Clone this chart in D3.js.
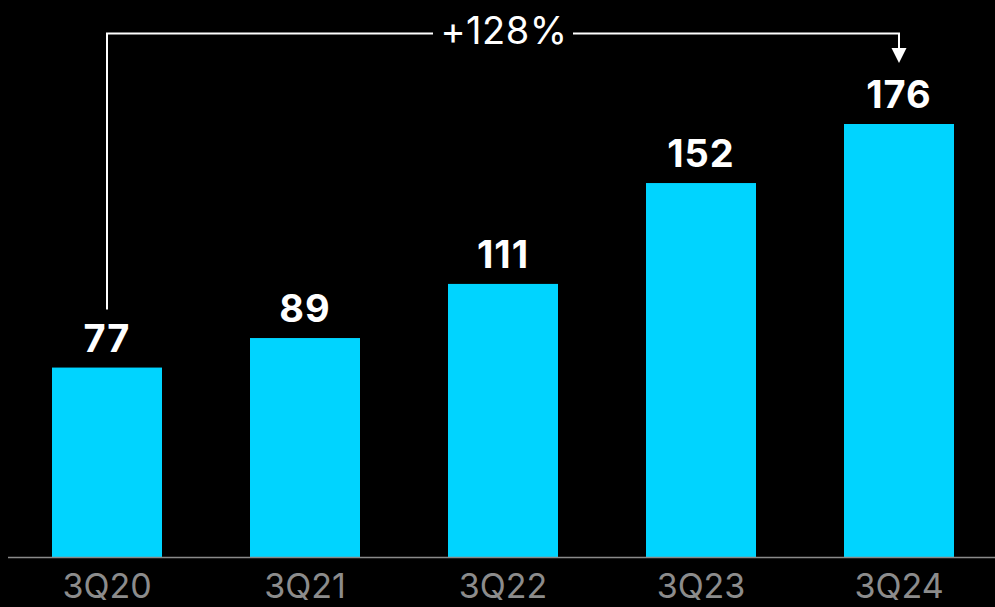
<!DOCTYPE html>
<html>
<head>
<meta charset="utf-8">
<script src="https://cdn.jsdelivr.net/npm/d3@7"></script>
<style>
  html, body { margin: 0; padding: 0; background: #000; }
  svg { display: block; }
</style>
</head>
<body>
<svg id="chart" width="995" height="607"></svg>
<script>
const categories = ["3Q20", "3Q21", "3Q22", "3Q23", "3Q24"];
const values = [77, 89, 111, 152, 176];
const growthLabel = "+128%";

const W = 995, H = 607;
const svg = d3.select("#chart");
svg.append("rect").attr("width", W).attr("height", H).attr("fill", "#000");

const x = d3.scaleBand()
  .domain(categories)
  .range([8, 998])
  .paddingInner(88 / 198)
  .paddingOuter(44 / 198);

const y = d3.scaleLinear()
  .domain([0, 176])
  .range([557, 124]);

// bars
svg.append("g").selectAll("rect")
  .data(values)
  .join("rect")
  .attr("x", (d, i) => x(categories[i]))
  .attr("y", d => y(d))
  .attr("width", x.bandwidth())
  .attr("height", d => y(0) - y(d))
  .attr("fill", "#00D4FF");

// baseline
svg.append("line")
  .attr("x1", 8).attr("x2", W)
  .attr("y1", y(0) + 0.5).attr("y2", y(0) + 0.5)
  .attr("stroke", "#8a8a8a")
  .attr("stroke-width", 1.5);

// category labels
const xAxis = d3.axisBottom(x).tickSize(0).tickPadding(0);
const gx = svg.append("g").attr("transform", `translate(0,${y(0)})`).call(xAxis);
gx.select(".domain").remove();
gx.selectAll("text")
  .attr("dy", null)
  .attr("y", 41)
  .attr("fill", "#8c8c8c")
  .attr("font-family", "Inter, 'Noto Sans', sans-serif")
  .attr("font-size", 34)
  .attr("font-weight", 400);

// value labels
svg.append("g").selectAll("text")
  .data(values)
  .join("text")
  .attr("x", (d, i) => x(categories[i]) + x.bandwidth() / 2)
  .attr("y", d => y(d) - 16)
  .attr("text-anchor", "middle")
  .attr("fill", "#fff")
  .attr("font-family", "Inter, 'Noto Sans', sans-serif")
  .attr("font-size", 38)
  .attr("font-weight", 700)
  .attr("letter-spacing", 1)
  .text(d => d);

// growth bracket from first to last bar
const cx0 = x(categories[0]) + x.bandwidth() / 2;
const cx1 = x(categories[categories.length - 1]) + x.bandwidth() / 2;
const lineY = 33.5;
const startY = y(values[0]) - 58;
const tipY = y(values[values.length - 1]) - 61;
const midX = x(categories[2]) + x.bandwidth() / 2;
const gapHalf = 70;

const ann = svg.append("g").attr("stroke", "#fff").attr("stroke-width", 2).attr("fill", "none");
ann.append("path")
  .attr("d", `M${cx0},${startY} V${lineY} H${midX - gapHalf}`);
ann.append("path")
  .attr("d", `M${midX + gapHalf},${lineY} H${cx1} V${tipY - 14}`);
svg.append("path")
  .attr("d", `M${cx1 - 7.5},${tipY - 15} L${cx1 + 7.5},${tipY - 15} L${cx1},${tipY} Z`)
  .attr("fill", "#fff");

svg.append("text")
  .attr("x", midX + 1)
  .attr("y", 44)
  .attr("text-anchor", "middle")
  .attr("fill", "#fff")
  .attr("font-family", "Inter, 'Noto Sans', sans-serif")
  .attr("font-size", 38)
  .attr("font-weight", 400)
  .attr("letter-spacing", 0.5)
  .text(growthLabel);
</script>
</body>
</html>
